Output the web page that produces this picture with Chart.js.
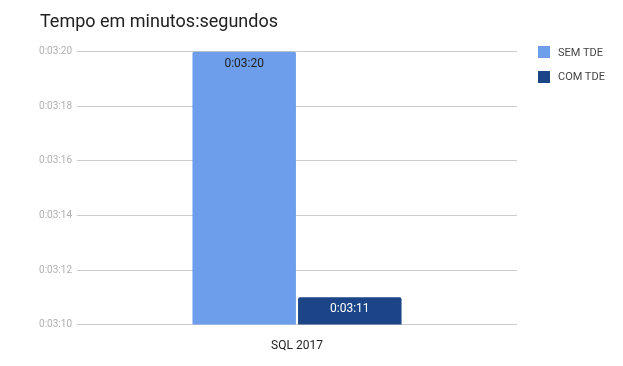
<!DOCTYPE html>
<html>
<head>
<meta charset="utf-8">
<script src="https://cdn.jsdelivr.net/npm/chart.js@4/dist/chart.umd.min.js"></script>
<style>
  body { margin: 0; background: #fff; font-family: Roboto, sans-serif; }
  #wrap { position: relative; width: 623px; height: 366px; }
  #legend { position: absolute; left: 538px; top: 46px; font-size: 11px; color: #444; }
  #legend div { display: flex; align-items: center; height: 12px; margin-bottom: 12.5px; }
  #legend span.box { width: 12px; height: 12px; margin-right: 8px; display: inline-block; }
</style>
</head>
<body>
<div id="wrap">
  <canvas id="myChart"></canvas>
  <div id="legend"></div>
</div>
<script>
'use strict';

// one category, two series, values in seconds
let categories = ['SQL 2017'];
let seriesNames = ['SEM TDE', 'COM TDE'];
let semTde = [200];
let comTde = [191];
let tickMin = 190;
let tickMax = 200;
let tickStep = 2;

let colors = ['#6d9eeb', '#1c4587'];
let labelColors = ['#222222', '#ffffff'];

function formatTime(secs) {
  let m = Math.floor(secs / 60);
  let s = secs % 60;
  return '0:' + String(m).padStart(2, '0') + ':' + String(s).padStart(2, '0');
}

// draws the value inside the top of each bar
const barValues = {
  id: 'barValues',
  afterDatasetsDraw(chart) {
    let ctx = chart.ctx;
    ctx.save();
    ctx.font = '12px Roboto';
    ctx.textAlign = 'center';
    ctx.textBaseline = 'middle';
    chart.data.datasets.forEach(function (ds, i) {
      let meta = chart.getDatasetMeta(i);
      meta.data.forEach(function (bar, j) {
        ctx.fillStyle = labelColors[i];
        ctx.fillText(formatTime(ds.data[j]), bar.x, bar.y + 12);
      });
    });
    ctx.restore();
  }
};

// title sits a bit right of the tick labels' box
const titleShift = {
  id: 'titleShift',
  afterLayout(chart) {
    if (chart.titleBlock) {
      chart.titleBlock.left += 8;
    }
  }
};

const config = {
  type: 'bar',
  data: {
    labels: categories,
    datasets: [
      {
        label: seriesNames[0],
        data: semTde,
        backgroundColor: colors[0],
        borderRadius: { topLeft: 2, topRight: 2 },
        borderSkipped: 'bottom'
      },
      {
        label: seriesNames[1],
        data: comTde,
        backgroundColor: colors[1],
        borderRadius: { topLeft: 2, topRight: 2 },
        borderSkipped: 'bottom'
      }
    ]
  },
  options: {
    responsive: true,
    maintainAspectRatio: false,
    animation: false,
    categoryPercentage: 0.48,
    barPercentage: 0.98,
    layout: { padding: { left: 32, right: 106, bottom: 7 } },
    plugins: {
      legend: { display: false },
      tooltip: { enabled: false },
      title: {
        display: true,
        text: 'Tempo em minutos:segundos',
        align: 'start',
        color: '#212121',
        font: { family: 'Roboto', size: 18, weight: 'normal' },
        padding: { top: 12, bottom: 18 }
      }
    },
    scales: {
      x: {
        grid: { display: false },
        border: { display: false },
        ticks: { color: '#222', font: { family: 'Roboto', size: 12 }, padding: 6 }
      },
      y: {
        min: tickMin,
        max: tickMax,
        afterFit(scale) { scale.width = 45; },
        grid: { color: '#cccccc', drawTicks: false },
        border: { display: false },
        ticks: {
          stepSize: tickStep,
          padding: 5,
          color: '#b0b0b0',
          font: { family: 'Roboto', size: 10 },
          callback: function (v) { return formatTime(v); }
        }
      }
    }
  },
  plugins: [barValues, titleShift]
};

let chartCanvas = document.getElementById('myChart').getContext('2d');
const myChart = new Chart(chartCanvas, config);

// legend drawn as html next to the chart
let legendBox = document.getElementById('legend');
myChart.data.datasets.forEach(function (ds) {
  let row = document.createElement('div');
  let box = document.createElement('span');
  box.className = 'box';
  box.style.background = ds.backgroundColor;
  row.appendChild(box);
  row.appendChild(document.createTextNode(ds.label));
  legendBox.appendChild(row);
});
</script>
</body>
</html>
